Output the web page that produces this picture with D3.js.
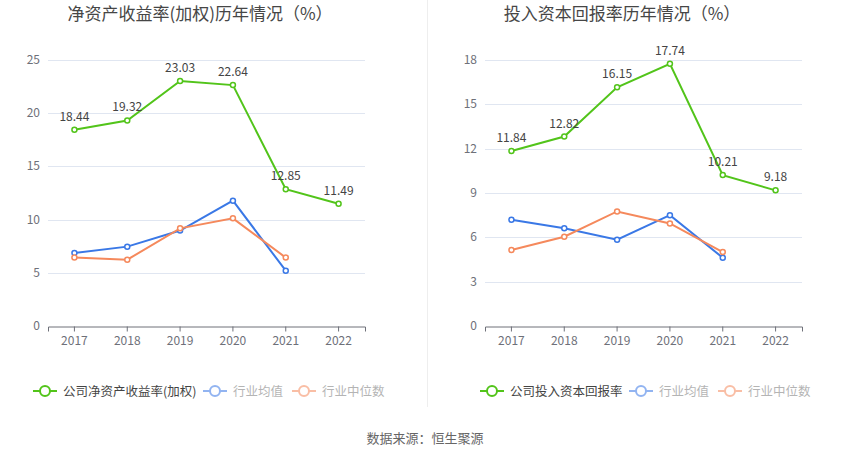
<!DOCTYPE html>
<html><head><meta charset="utf-8">
<script src="https://cdn.jsdelivr.net/npm/d3@7"></script>
<style>
body{margin:0;background:#fff;}
svg{display:block;font-family:"Noto Sans CJK SC","Noto Sans",sans-serif;}
</style></head>
<body><svg id="c" width="850" height="459"></svg>
<script>
const years = ["2017","2018","2019","2020","2021","2022"];
const roeCompany = [18.44, 19.32, 23.03, 22.64, 12.85, 11.49];
const roeIndustryMean = [6.87, 7.46, 8.97, 11.78, 5.20];
const roeIndustryMedian = [6.43, 6.23, 9.18, 10.12, 6.43];
const roeTicks = [0, 5, 10, 15, 20, 25];
const roicCompany = [11.84, 12.82, 16.15, 17.74, 10.21, 9.18];
const roicIndustryMean = [7.19, 6.62, 5.84, 7.50, 4.62];
const roicIndustryMedian = [5.14, 6.04, 7.75, 6.94, 5.00];
const roicTicks = [0, 3, 6, 9, 12, 15, 18];

const colors = {green:"#52c41a", blue:"#3a78e6", orange:"#f5895c"};
const svg = d3.select("#c");

// divider
svg.append("line").attr("x1",427.5).attr("x2",427.5).attr("y1",0).attr("y2",407)
  .attr("stroke","#eeeeee").attr("stroke-width",1);

function chart(cfg){
  const g = svg.append("g");
  const x = d3.scaleBand().domain(years).range([cfg.x0,cfg.x1]);
  const y = d3.scaleLinear().domain([0,cfg.ticks[cfg.ticks.length-1]]).range([326,60]);
  // title
  g.append("text").attr("x",cfg.titleX).attr("y",20).attr("text-anchor","middle")
    .attr("font-size",17).attr("fill","#464646").text(cfg.title);
  // grid
  g.selectAll(".grid").data(cfg.ticks.filter(t=>t>0)).enter().append("line")
    .attr("x1",cfg.x0).attr("x2",cfg.x1).attr("y1",d=>Math.round(y(d))+0.5).attr("y2",d=>Math.round(y(d))+0.5)
    .attr("stroke","#e0e6f1");
  // y labels
  g.selectAll(".yl").data(cfg.ticks).enter().append("text")
    .attr("x",cfg.x0-8).attr("y",d=>y(d)+4).attr("text-anchor","end")
    .attr("font-size",12).attr("fill","#6e7079").text(d=>d);
  // x axis
  const xa = g.append("g").attr("transform","translate(0,"+(Math.round(y(0))+0.5)+")")
    .call(d3.axisBottom(x).tickSize(5).tickPadding(5));
  xa.select(".domain").attr("stroke","#6e7079");
  xa.selectAll(".tick line").attr("stroke","#6e7079");
  xa.selectAll(".tick text").attr("font-size",12).attr("fill","#6e7079")
     .attr("font-family","'Noto Sans CJK SC','Noto Sans',sans-serif");
  const cx = d => x(d)+x.bandwidth()/2;
  function series(vals,color){
    const pts = vals.map((v,i)=>[cx(years[i]),y(v)]);
    g.append("path").attr("d",d3.line()(pts)).attr("fill","none")
      .attr("stroke",color).attr("stroke-width",2);
    g.selectAll(null).data(pts).enter().append("circle")
      .attr("cx",d=>d[0]).attr("cy",d=>d[1]).attr("r",2.5)
      .attr("fill","#fff").attr("stroke",color).attr("stroke-width",1.5);
  }
  series(cfg.mean,colors.blue);
  series(cfg.median,colors.orange);
  series(cfg.company,colors.green);
  g.selectAll(null).data(cfg.company).enter().append("text")
    .attr("x",(d,i)=>cx(years[i])).attr("y",d=>y(d)-9).attr("text-anchor","middle")
    .attr("font-size",12).attr("fill","#444").text(d=>d.toFixed(2));
  // legend
  const items = [[cfg.legend,colors.green,1,"#444"],["行业均值",colors.blue,0.55,"#777"],["行业中位数",colors.orange,0.55,"#777"]];
  items.forEach(([t,c,op,tc],i)=>{
    const lx = cfg.legendX[i];
    const lg = g.append("g").attr("opacity",op);
    lg.append("line").attr("x1",lx).attr("x2",lx+24).attr("y1",391).attr("y2",391).attr("stroke",c).attr("stroke-width",2);
    lg.append("circle").attr("cx",lx+12).attr("cy",391).attr("r",5).attr("fill","#fff").attr("stroke",c).attr("stroke-width",2);
    lg.append("text").attr("x",lx+30).attr("y",395.5).attr("font-size",12.5).attr("fill",tc).text(t);
  });
}

chart({x0:48,x1:365,titleX:200,title:"净资产收益率(加权)历年情况（%）",ticks:roeTicks,
  company:roeCompany,mean:roeIndustryMean,median:roeIndustryMedian,legend:"公司净资产收益率(加权)",legendX:[33,203,292]});
chart({x0:485,x1:802,titleX:622,title:"投入资本回报率历年情况（%）",ticks:roicTicks,
  company:roicCompany,mean:roicIndustryMean,median:roicIndustryMedian,legend:"公司投入资本回报率",legendX:[480,629,718]});

svg.append("text").attr("x",425).attr("y",443).attr("text-anchor","middle")
  .attr("font-size",13).attr("fill","#666").text("数据来源：恒生聚源");
</script></body></html>
